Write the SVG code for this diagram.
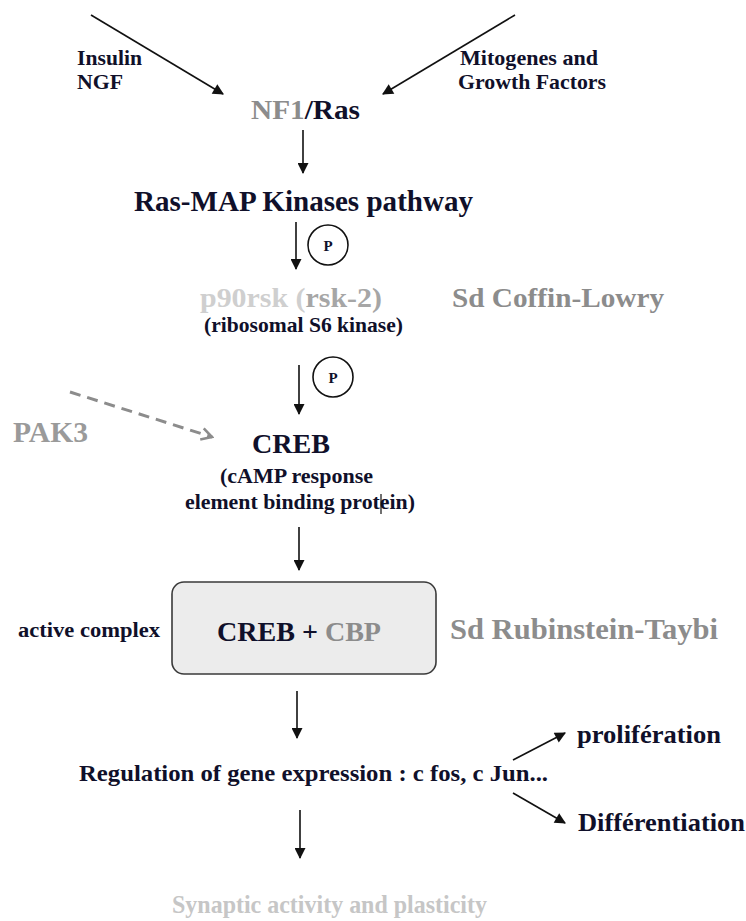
<svg xmlns="http://www.w3.org/2000/svg" width="746" height="921" viewBox="0 0 746 921">
  <style>
    text { font-family: "Liberation Serif", "Times New Roman", serif; font-weight: bold; fill: #10102a; }
    text.grey, tspan.grey { fill: #8c8c8c; }
    text.pak { fill: #9a9a9a; }
    text.pale { fill: #c6c6c6; }
    .conn { stroke: #111; stroke-width: 1.6; fill: none; }
    .dash { stroke: #8c8c8c; stroke-width: 3; fill: none; stroke-dasharray: 11 7; }
    .phos { fill: none; stroke: #111; stroke-width: 1.6; }
  </style>
  <defs>
    <marker id="head" viewBox="0 0 10 10" refX="9" refY="5" markerWidth="13" markerHeight="11" markerUnits="userSpaceOnUse" orient="auto">
      <path d="M0,0 L10,5 L0,10 z" fill="#111"/>
    </marker>
    <marker id="open-grey" viewBox="0 0 12 12" refX="10" refY="6" markerWidth="14" markerHeight="14" markerUnits="userSpaceOnUse" orient="auto">
      <path d="M1,1 L10,6 L1,11" fill="none" stroke="#8c8c8c" stroke-width="2.2"/>
    </marker>
  </defs>

  <!-- connectors -->
  <g id="connectors">
    <line class="conn" x1="91" y1="15" x2="223" y2="94" marker-end="url(#head)"/>
    <line class="conn" x1="515" y1="15" x2="383" y2="94" marker-end="url(#head)"/>
    <line class="conn" x1="303" y1="130" x2="303" y2="173" marker-end="url(#head)"/>
    <line class="conn" x1="296" y1="222" x2="296" y2="269" marker-end="url(#head)"/>
    <line class="conn" x1="299" y1="365" x2="299" y2="414" marker-end="url(#head)"/>
    <line class="conn" x1="299" y1="527" x2="299" y2="570" marker-end="url(#head)"/>
    <line class="conn" x1="297" y1="691" x2="297" y2="738" marker-end="url(#head)"/>
    <line class="conn" x1="300" y1="810" x2="300" y2="858" marker-end="url(#head)"/>
    <line class="conn" x1="513" y1="760" x2="565" y2="733" marker-end="url(#head)"/>
    <line class="conn" x1="513" y1="793" x2="565" y2="823" marker-end="url(#head)"/>
    <line class="dash" x1="70" y1="392" x2="212" y2="437" marker-end="url(#open-grey)"/>
  </g>

  <!-- upstream signals -->
  <g id="insulin">
    <text x="77" y="65" font-size="21" textLength="65" lengthAdjust="spacingAndGlyphs">Insulin</text>
    <text x="77" y="89" font-size="21" textLength="46" lengthAdjust="spacingAndGlyphs">NGF</text>
  </g>
  <g id="mitogenes">
    <text x="460" y="65" font-size="21" textLength="138" lengthAdjust="spacingAndGlyphs">Mitogenes and</text>
    <text x="458" y="89" font-size="21" textLength="148" lengthAdjust="spacingAndGlyphs">Growth Factors</text>
  </g>

  <g id="nf1-ras">
    <text x="251" y="119" font-size="28" textLength="109" lengthAdjust="spacingAndGlyphs"><tspan class="grey">NF1</tspan>/Ras</text>
  </g>

  <g id="ras-map">
    <text x="134" y="211" font-size="29" textLength="339" lengthAdjust="spacingAndGlyphs">Ras-MAP Kinases pathway</text>
  </g>

  <g id="phospho-1">
    <circle class="phos" cx="328" cy="245" r="20"/>
    <text x="328" y="251" font-size="15" text-anchor="middle">P</text>
  </g>

  <g id="p90rsk">
    <text x="200" y="307" font-size="28" textLength="182" lengthAdjust="spacingAndGlyphs"><tspan fill="#cfcfcf">p90rsk (</tspan><tspan fill="#a6a6a6">rsk-2)</tspan></text>
    <text x="204" y="332" font-size="21" textLength="199" lengthAdjust="spacingAndGlyphs">(ribosomal S6 kinase)</text>
  </g>
  <g id="coffin-lowry">
    <text class="grey" x="452" y="307" font-size="28" textLength="212" lengthAdjust="spacingAndGlyphs">Sd Coffin-Lowry</text>
  </g>

  <g id="phospho-2">
    <circle class="phos" cx="333" cy="377" r="20"/>
    <text x="333" y="383" font-size="15" text-anchor="middle">P</text>
  </g>

  <g id="pak3">
    <text class="pak" x="13" y="442" font-size="29" textLength="75" lengthAdjust="spacingAndGlyphs">PAK3</text>
  </g>

  <g id="creb">
    <text x="252" y="453" font-size="28" textLength="78" lengthAdjust="spacingAndGlyphs">CREB</text>
    <text x="220" y="483" font-size="22" textLength="153" lengthAdjust="spacingAndGlyphs">(cAMP response</text>
    <text x="185" y="509" font-size="22" textLength="230" lengthAdjust="spacingAndGlyphs">element binding protein)</text>
    <line x1="381" y1="494" x2="381" y2="514" stroke="#111" stroke-width="1.2"/>
  </g>

  <g id="active-complex">
    <text x="18" y="637" font-size="20" textLength="142" lengthAdjust="spacingAndGlyphs">active complex</text>
  </g>
  <g id="creb-cbp">
    <rect x="172" y="582" width="264" height="92" rx="12" ry="12" fill="#ececec" stroke="#3a3a3a" stroke-width="1.6"/>
    <text x="217" y="641" font-size="28" textLength="164" lengthAdjust="spacingAndGlyphs">CREB + <tspan class="grey">CBP</tspan></text>
  </g>
  <g id="rubinstein-taybi">
    <text class="grey" x="450" y="639" font-size="29" textLength="268" lengthAdjust="spacingAndGlyphs">Sd Rubinstein-Taybi</text>
  </g>

  <g id="gene-regulation">
    <text x="79" y="781" font-size="24" textLength="469" lengthAdjust="spacingAndGlyphs">Regulation of gene expression : c fos, c Jun...</text>
  </g>
  <g id="proliferation">
    <text x="577" y="743" font-size="25" textLength="144" lengthAdjust="spacingAndGlyphs">prolifération</text>
  </g>
  <g id="differentiation">
    <text x="578" y="831" font-size="25" textLength="167" lengthAdjust="spacingAndGlyphs">Différentiation</text>
  </g>

  <g id="synaptic">
    <text class="pale" x="172" y="913" font-size="26" textLength="315" lengthAdjust="spacingAndGlyphs">Synaptic activity and plasticity</text>
  </g>
</svg>
